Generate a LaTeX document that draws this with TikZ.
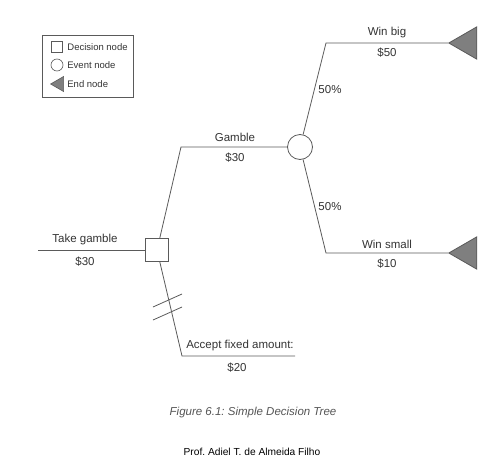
\documentclass[tikz,border=0pt]{standalone}
\usepackage{fontspec}
\setmainfont{Liberation Sans}
\usepackage{xcolor}
\usepackage{tikz}
\usetikzlibrary{positioning,shapes.geometric,calc}
\definecolor{treeln}{HTML}{5A5A5A}
\definecolor{treetx}{HTML}{333333}
\definecolor{endfill}{HTML}{7F7F7F}
\definecolor{capgray}{HTML}{555555}
\frenchspacing

\begin{document}
\begin{tikzpicture}[x=1pt,y=-1pt,
  line width=0.8pt,
  branch/.style={draw=treeln},
  lbl/.style={text=treetx,font=\fontsize{11.5}{13}\selectfont,inner sep=0pt},
  leg/.style={text=treetx,font=\fontsize{9.5}{11}\selectfont,inner sep=0pt,anchor=west},
  decbox/.style={draw=treeln,fill=white,minimum size=23pt,inner sep=0pt},
  evcirc/.style={circle,draw=treeln,fill=white,minimum size=25pt,inner sep=0pt},
  endtri/.style={isosceles triangle,shape border rotate=180,isosceles triangle apex angle=60,
    draw=treeln,fill=endfill,minimum height=28pt,inner sep=0pt,anchor=apex}]
\useasboundingbox (0,0) rectangle (492,474);

% legend
\node[draw=treeln,line width=0.6pt,minimum width=91pt,minimum height=62pt,inner sep=0pt] (legend) at (88,66) {};
\node[decbox,minimum size=11pt,line width=0.6pt] (legdec) at (57,47) {};
\node[evcirc,minimum size=12pt,line width=0.6pt] (legev) at (57,65) {};
\node[endtri,minimum height=13pt,line width=0.6pt] (legtri) at (50,84) {};
\node[leg] at (67,47) {Decision node};
\node[leg] at (67,65) {Event node};
\node[leg] at (67,84) {End node};

% tree nodes
\node[decbox] (dec) at (157,250) {};
\node[evcirc] (ev) at (300,147) {};
\node[endtri] (big) at (448,43) {};
\node[endtri] (small) at (448,253) {};

\coordinate (start) at (38,250);
\coordinate (cgam) at (181,147);
\coordinate (cbig) at (326,43);
\coordinate (csmall) at (326,253);
\coordinate (cacc) at (182,356);
\coordinate (eacc) at (295,356);

\draw[branch] (start) -- (dec);
\draw[branch] (dec) -- (cgam) -- (ev);
\draw[branch] (ev) -- (cbig) -- (big.apex);
\draw[branch] (ev) -- (csmall) -- (small.apex);
\draw[branch] (dec) -- (cacc) -- (eacc);
% not chosen
\draw[branch] (153,307) -- (182,294);
\draw[branch] (153,320) -- (182,307);

% labels
\node[lbl] at (85,240) {Take gamble};
\node[lbl] at (85,262) {\$30};
\node[lbl] at (235,137) {Gamble};
\node[lbl] at (235,158) {\$30};
\node[lbl] at (387,33) {Win big};
\node[lbl] at (387,53) {\$50};
\node[lbl] at (330,90) {50\%};
\node[lbl] at (330,207) {50\%};
\node[lbl] at (387,244) {Win small};
\node[lbl] at (387,264) {\$10};
\node[lbl] at (240,346) {Accept fixed amount:};
\node[lbl] at (237,368) {\$20};

\node[text=capgray,font=\fontsize{11.5}{13}\itshape] (cap) at (253,413) {Figure 6.1: Simple Decision Tree};
\node[text=black,font=\fontsize{10.2}{12}\selectfont] (author) at (252,452) {Prof. Adiel T. de Almeida Filho};
\end{tikzpicture}
\end{document}
